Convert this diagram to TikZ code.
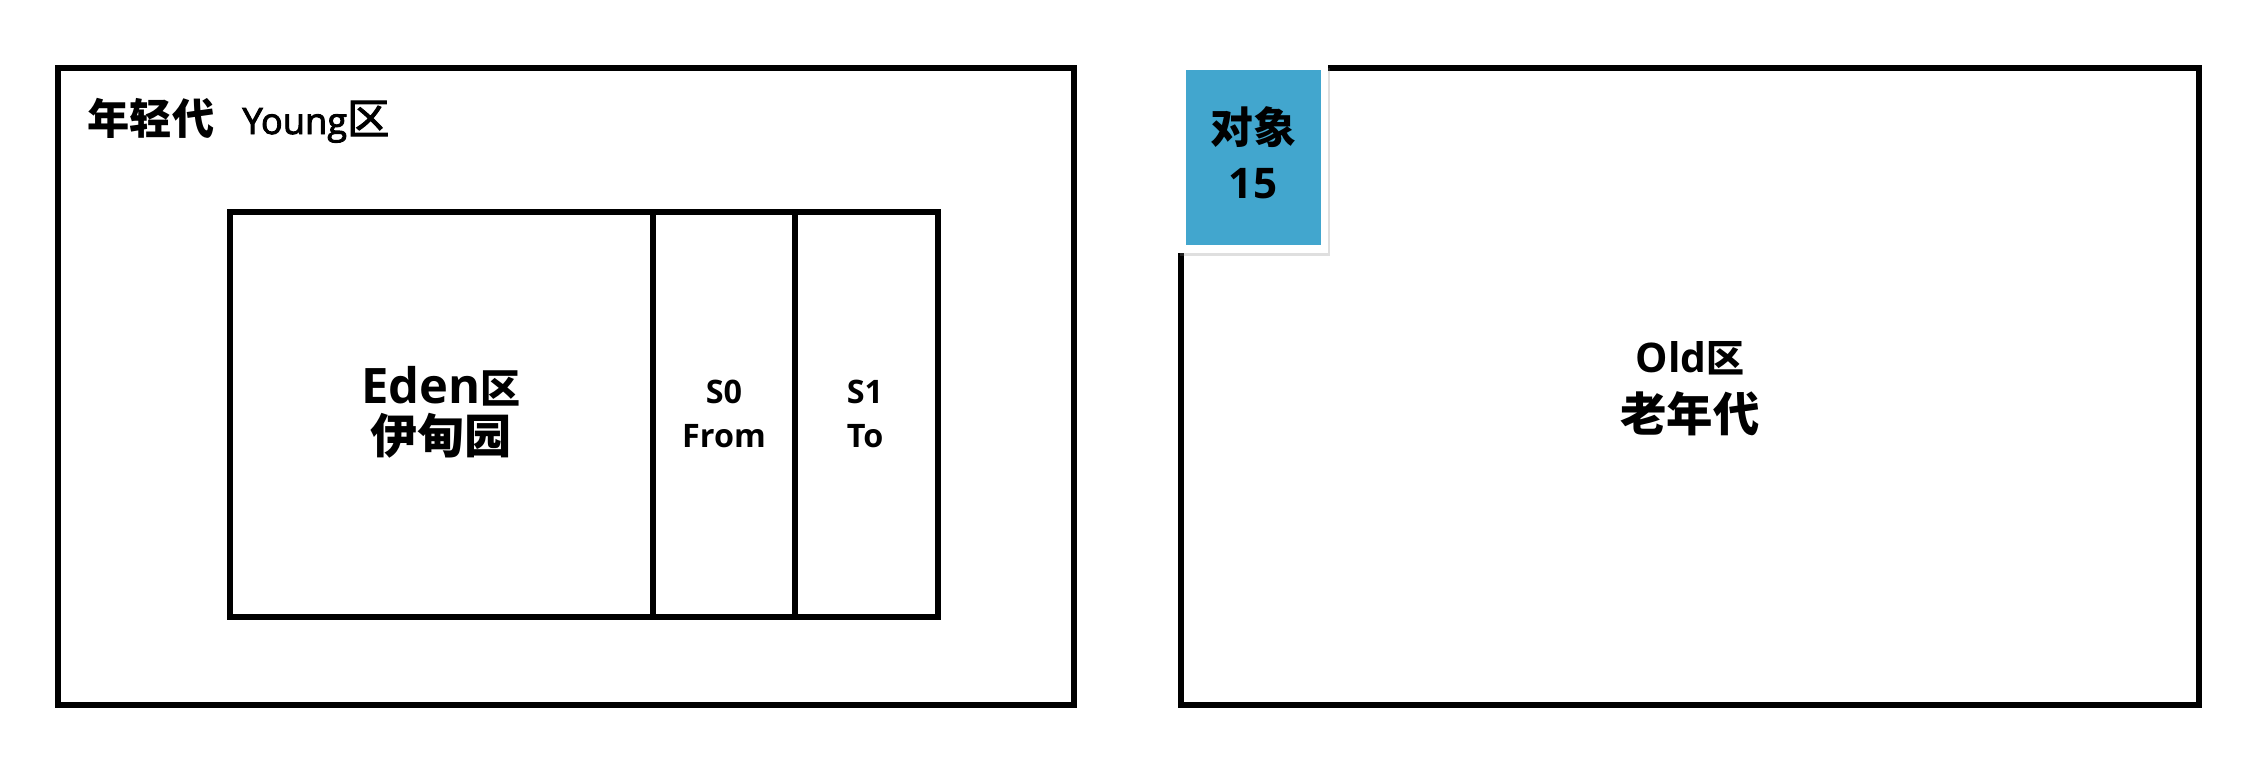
\documentclass[tikz,border=0pt]{standalone}
\usepackage{fontspec}
\usetikzlibrary{shadows}
\newfontfamily\cjk{Noto Sans CJK SC}
\newfontfamily\lat{Open Sans}
\newfontfamily\latm{Open Sans}[FakeBold=2.5]
\newfontfamily\cjkm{Noto Sans CJK SC}[FakeBold=2.5]
\definecolor{objblue}{RGB}{66,166,206}
\newcommand{\fs}[1]{\fontsize{#1}{#1}\selectfont}
\begin{document}
\begin{tikzpicture}[x=0.01cm,y=-0.01cm,
  frame/.style={draw=black,line width=1.56pt,line join=miter},
  lbl/.style={inner sep=0pt,anchor=base,text=black}]
\useasboundingbox (0,0) rectangle (2259,766);
% young generation
\draw[frame] (58,68) rectangle (1074,705);
\draw[frame] (230,212) rectangle (938,617);
\draw[frame] (653,212) -- (653,617);
\draw[frame] (795,212) -- (795,617);
% old generation
\draw[frame] (1181,68) rectangle (2199,705);
% object block
\fill[white,drop shadow={opacity=0.25,shadow xshift=0.6pt,shadow yshift=-0.9pt}] (1178,65) rectangle (1328,253);
\fill[objblue] (1186,70) rectangle (1321,245);
% labels
\node[lbl,anchor=base west] (young) at (87,134) {{\cjk\bfseries\fs{12}年轻代}\hspace{8pt}{\latm\fs{10.3}Young}{\cjkm\fs{12}区}};
\node[lbl] (eden1) at (441,403) {{\lat\bfseries\fs{13.9}Eden}{\cjk\bfseries\fs{11.4}区}};
\node[lbl] (eden2) at (441,453) {\cjk\bfseries\fs{13.4}伊甸园};
\node[lbl] (s0a) at (724,403) {\lat\bfseries\fs{9.2}S0};
\node[lbl] (s0b) at (724,447) {\lat\bfseries\fs{9.2}From};
\node[lbl] (s1a) at (865,403) {\lat\bfseries\fs{9.2}S1};
\node[lbl] (s1b) at (865,447) {\lat\bfseries\fs{9.2}To};
\node[lbl] (old1) at (1690,372) {{\lat\bfseries\fs{11.6}Old}{\cjk\bfseries\fs{10.8}区}};
\node[lbl] (old2) at (1690,431) {\cjk\bfseries\fs{13.2}老年代};
\node[lbl] (obj1) at (1253,143) {\cjk\bfseries\fs{12.2}对象};
\node[lbl] (obj2) at (1253,198) {\lat\bfseries\fs{12}15};
\end{tikzpicture}
\end{document}
